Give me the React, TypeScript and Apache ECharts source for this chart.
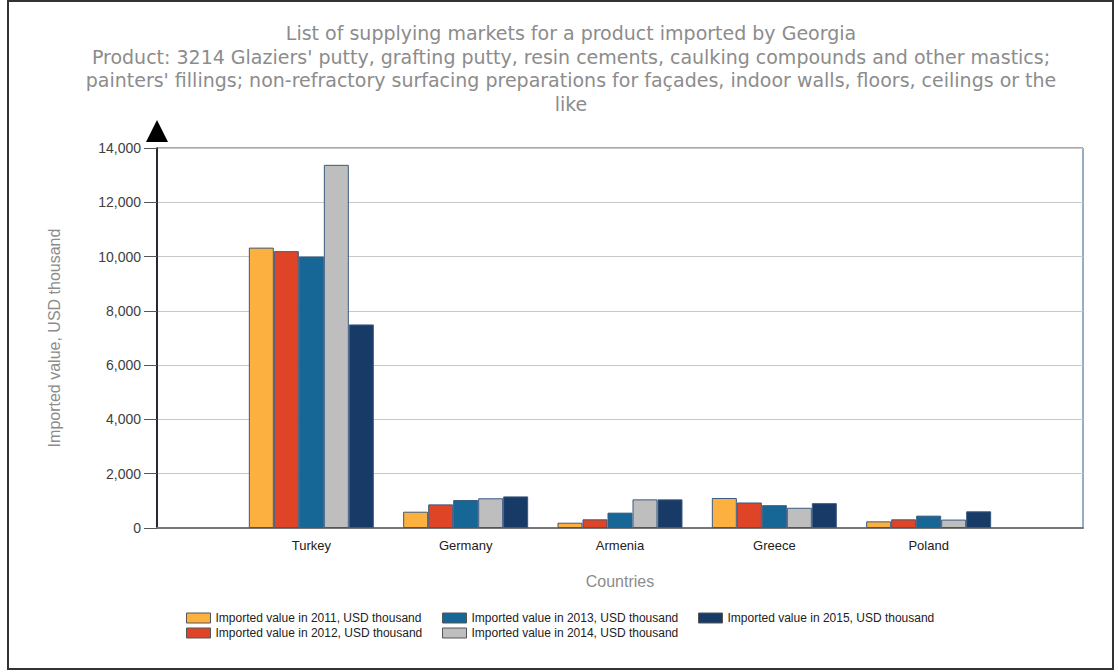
import React, { useEffect, useRef } from "react";
import * as echarts from "echarts";

const categories = ["", "Turkey", "Germany", "Armenia", "Greece", "Poland", ""];
const seriesNames = [
  "Imported value in 2011, USD thousand",
  "Imported value in 2012, USD thousand",
  "Imported value in 2013, USD thousand",
  "Imported value in 2014, USD thousand",
  "Imported value in 2015, USD thousand",
];
const values2011 = [null, 10330, 600, 195, 1105, 245, null];
const values2012 = [null, 10200, 870, 320, 940, 320, null];
const values2013 = [null, 10000, 1030, 565, 840, 455, null];
const values2014 = [null, 13380, 1095, 1055, 745, 310, null];
const values2015 = [null, 7500, 1165, 1055, 915, 615, null];
const seriesColors = ["#FBB040", "#E04427", "#166696", "#BEBEBE", "#173A67"];

const titleText =
  "List of supplying markets for a product imported by Georgia\n" +
  "Product: 3214 Glaziers' putty, grafting putty, resin cements, caulking compounds and other mastics;\n" +
  "painters' fillings; non-refractory surfacing preparations for façades, indoor walls, floors, ceilings or the\n" +
  "like";

export default function App() {
  const ref = useRef<HTMLDivElement>(null);
  useEffect(() => {
    if (!ref.current) return;
    const chart = echarts.init(ref.current, null, { renderer: "svg" });
    const allValues = [values2011, values2012, values2013, values2014, values2015];
    const legendText = { fontFamily: "Liberation Sans, Arial, sans-serif", fontSize: 12, color: "#222" };
    const legendCommon = {
      orient: "vertical" as const,
      top: 607,
      itemWidth: 24,
      itemHeight: 10,
      itemGap: 3,
      icon: "rect",
      textStyle: legendText,
      itemStyle: { borderColor: "#555", borderWidth: 1 },
    };
    chart.setOption({
      animation: false,
      backgroundColor: "#fff",
      title: {
        text: titleText,
        left: 566,
        textAlign: "center",
        top: 16,
        textStyle: {
          fontFamily: "DejaVu Sans, Verdana, sans-serif",
          fontSize: 19,
          fontWeight: "normal",
          color: "#8c8c8c",
          lineHeight: 23.7,
        },
      },
      legend: [
        { ...legendCommon, left: 181, data: [seriesNames[0], seriesNames[1]] },
        { ...legendCommon, left: 437, data: [seriesNames[2], seriesNames[3]] },
        { ...legendCommon, left: 693, data: [seriesNames[4]] },
      ],
      grid: {
        left: 157,
        right: 35,
        top: 148,
        bottom: 144,
        show: true,
        borderColor: "#2E5A8A",
        borderWidth: 1,
        backgroundColor: "transparent",
      },
      xAxis: {
        type: "category",
        data: categories,
        boundaryGap: false,
        name: "Countries",
        nameLocation: "middle",
        nameGap: 45,
        nameTextStyle: { fontFamily: "Liberation Sans, Arial, sans-serif", fontSize: 16, color: "#8c8c8c" },
        axisLine: { show: true, lineStyle: { color: "#777", width: 2 } },
        axisTick: { show: false },
        axisLabel: { fontFamily: "Liberation Sans, Arial, sans-serif", fontSize: 13, color: "#222", margin: 11, interval: 0 },
        splitLine: { show: false },
      },
      yAxis: {
        type: "value",
        min: 0,
        max: 14000,
        interval: 2000,
        name: "Imported value, USD thousand",
        nameLocation: "middle",
        nameGap: 95,
        nameTextStyle: { fontFamily: "Liberation Sans, Arial, sans-serif", fontSize: 16, color: "#8c8c8c" },
        axisLine: {
          show: true,
          lineStyle: { color: "#000", width: 1.5 },
          symbol: ["none", "triangle"],
          symbolSize: [22, 22],
          symbolOffset: [0, 17],
        },
        axisTick: { show: true, length: 13, lineStyle: { color: "#555" } },
        axisLabel: {
          fontFamily: "Liberation Sans, Arial, sans-serif",
          fontSize: 14,
          color: "#404040",
          margin: 16,
          formatter: (v: number) => v.toLocaleString("en-US"),
        },
        splitLine: { show: true, lineStyle: { color: "#c8c8c8", width: 1 } },
      },
      series: seriesNames.map((name, i) => ({
        name,
        type: "bar",
        data: allValues[i],
        barGap: "0%",
        barCategoryGap: "19%",
        itemStyle: { color: seriesColors[i], borderColor: "#3A5A80", borderWidth: 1 },
      })),
      graphic: [
        {
          type: "rect",
          shape: { x: 8, y: 1, width: 1105, height: 668 },
          style: { fill: "none", stroke: "#333", lineWidth: 2 },
          silent: true,
        },
      ],
    });
    return () => chart.dispose();
  }, []);
  return (
    <div
      ref={ref}
      style={{ position: "fixed", left: 0, top: 0, width: 1118, height: 672 }}
    />
  );
}
